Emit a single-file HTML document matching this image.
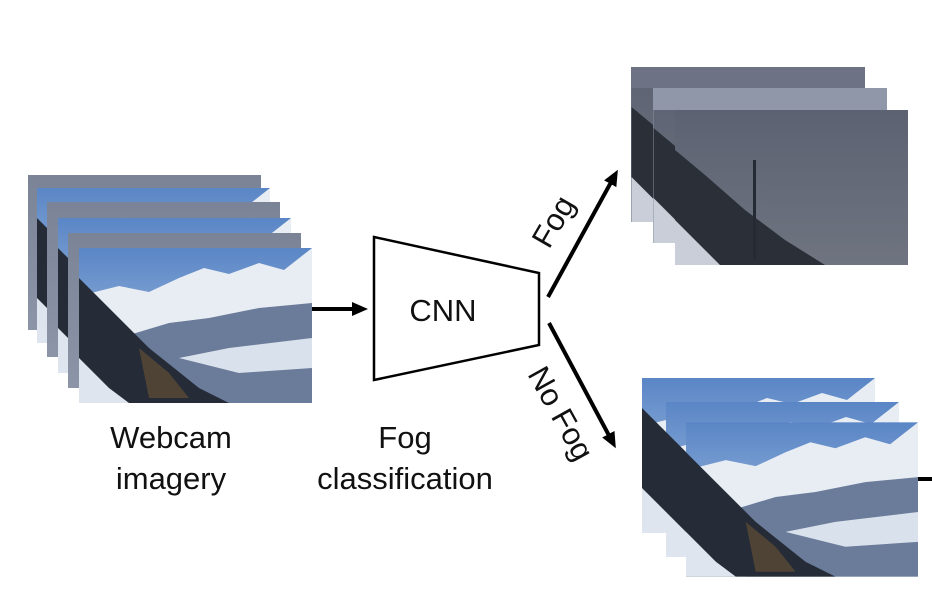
<!DOCTYPE html>
<html><head><meta charset="utf-8"><style>
html,body{margin:0;padding:0;background:#fff;}
svg{display:block;}
text{font-family:"Liberation Sans",Arial,sans-serif;fill:#111;}
</style></head><body>
<svg width="932" height="597" viewBox="0 0 932 597" xmlns="http://www.w3.org/2000/svg">
<defs>
<linearGradient id="sky" x1="0" y1="0" x2="0" y2="1">
<stop offset="0" stop-color="#5a86c6"/><stop offset="1" stop-color="#b4cae6"/></linearGradient>
<linearGradient id="frame" x1="0" y1="0" x2="0" y2="1">
<stop offset="0" stop-color="#7a8496"/><stop offset="1" stop-color="#8c95a8"/></linearGradient>
<linearGradient id="fogsky" x1="0" y1="0" x2="0" y2="1">
<stop offset="0" stop-color="#5c6272"/><stop offset="1" stop-color="#6f7480"/></linearGradient>
<symbol id="mtn" viewBox="0 0 233 155">
<rect width="233" height="155" fill="url(#sky)"/>
<polygon points="0,48 40,38 70,44 100,30 125,20 150,26 180,15 205,22 233,0 233,155 0,155" fill="#e8edf4"/>
<polygon points="40,90 90,75 130,70 180,60 233,55 233,155 60,155" fill="#55678a" opacity=".85"/>
<polygon points="100,110 150,100 233,90 233,120 160,125" fill="#d9e1ec"/>
<polygon points="0,30 30,60 70,100 120,140 150,155 0,155" fill="#262c37"/>
<polygon points="0,110 30,140 50,155 0,155" fill="#dfe5ee"/>
<polygon points="60,100 90,125 110,150 70,150" fill="#6a5436" opacity=".6"/>
</symbol>
<symbol id="fog" viewBox="0 0 233 155">
<rect width="233" height="155" fill="url(#fogsky)"/>
<polygon points="0,40 30,65 70,100 110,130 150,155 0,155" fill="#2a2f38"/>
<polygon points="0,110 25,135 45,155 0,155" fill="#c9ced8"/>
<rect x="78" y="50" width="3" height="100" fill="#262a32"/>
</symbol>
<marker id="ah" markerWidth="16" markerHeight="14" refX="10" refY="7" orient="auto" markerUnits="userSpaceOnUse">
<polygon points="0,0 16,7 0,14" fill="#000"/></marker>
</defs>

<rect x="28" y="175" width="233" height="155" fill="url(#frame)"/>
<use href="#mtn" x="37" y="188" width="233" height="155"/>
<rect x="47" y="202" width="233" height="155" fill="url(#frame)"/>
<use href="#mtn" x="58" y="218" width="233" height="155"/>
<rect x="68" y="233" width="233" height="155" fill="url(#frame)"/>
<use href="#mtn" x="79" y="248" width="233" height="155"/>

<rect x="631" y="67" width="234" height="155" fill="#6e7486"/>
<use href="#fog" x="631" y="67" width="234" height="155"/>
<rect x="653" y="88" width="234" height="155" fill="#8a92a4"/>
<use href="#fog" x="653" y="88" width="234" height="155"/>
<use href="#fog" x="675" y="110" width="233" height="155"/>
<rect x="653" y="88" width="234" height="22" fill="#8f97a8"/>
<rect x="631" y="67" width="234" height="21" fill="#6d7385"/>

<use href="#mtn" x="642" y="378" width="233" height="155"/>
<use href="#mtn" x="666" y="402" width="233" height="155"/>
<use href="#mtn" x="686" y="422" width="232" height="155"/>
<rect x="918" y="477" width="14" height="4" fill="#000"/>

<line x1="312" y1="309" x2="362" y2="309" stroke="#000" stroke-width="4" marker-end="url(#ah)"/>
<polygon points="374,237 539,273 539,345 374,380" fill="#fff" stroke="#000" stroke-width="2.5"/>
<text x="443" y="321" font-size="31" text-anchor="middle">CNN</text>
<line x1="548" y1="297" x2="615" y2="175" stroke="#000" stroke-width="4" marker-end="url(#ah)"/>
<line x1="549" y1="323" x2="613" y2="443" stroke="#000" stroke-width="4" marker-end="url(#ah)"/>
<text x="0" y="0" font-size="31" transform="translate(549,250) rotate(-60)">Fog</text>
<text x="0" y="0" font-size="31" transform="translate(527,374) rotate(61)">No Fog</text>

<text x="171" y="448" font-size="31" text-anchor="middle">Webcam</text>
<text x="171" y="489" font-size="31" text-anchor="middle">imagery</text>
<text x="405" y="448" font-size="31" text-anchor="middle">Fog</text>
<text x="405" y="489" font-size="31" text-anchor="middle">classification</text>
</svg>
</body></html>
